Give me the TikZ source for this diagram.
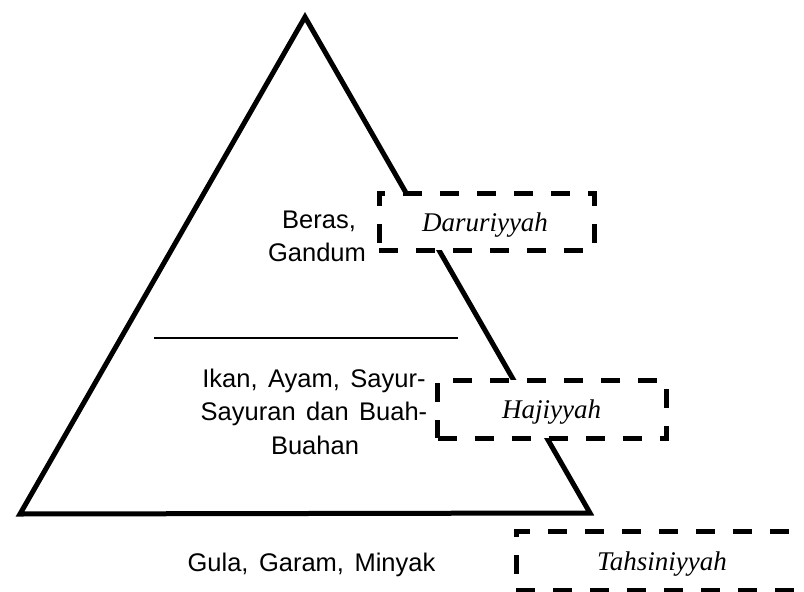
\documentclass[tikz,border=0pt]{standalone}
\usepackage{fontspec}
\setmainfont{Liberation Sans}
\newfontfamily\lblfont{Liberation Serif}
\newcommand\widesp{\spaceskip=10.5pt\relax}
\begin{document}
\begin{tikzpicture}[x=1pt,y=-1pt,
  tri/.style={line width=5pt, line join=miter},
  sidebox/.style={draw, fill=white, line width=5pt, dash pattern=on 19pt off 18pt, inner sep=0pt},
  txt/.style={inner sep=0pt, anchor=base, font=\fontsize{25.5}{25.5}\selectfont},
  lbl/.style={inner sep=0pt, anchor=base, font=\lblfont\itshape\fontsize{27}{27}\selectfont}]
\useasboundingbox (0,0) rectangle (804,592);
\coordinate (A) at (305,17);
\coordinate (L) at (20,514);
\coordinate (R) at (590,513);
\draw[tri] (A) -- (L) -- (R) -- cycle;
\coordinate (s1) at (154,338);
\coordinate (s2) at (458,338);
\draw[line width=1.2pt] (s1) -- (s2);
% level texts
\node[txt] (t1a) at (319,228) {Beras,};
\node[txt] (t1b) at (317,261.5) {Gandum};
\node[txt] (t2a) at (314,387) {\widesp Ikan, Ayam, Sayur-};
\node[txt] (t2b) at (314,420.5) {\widesp Sayuran dan Buah-};
\node[txt] (t2c) at (315,454) {Buahan};
\node[txt] (t3) at (311.5,571) {\widesp Gula, Garam, Minyak};
% side boxes
\node[sidebox, minimum width=215pt, minimum height=57pt] (bd) at (486.5,221.5) {};
\node[lbl] (ld) at (485,231) {Daruriyyah};
\node[sidebox, minimum width=228.5pt, minimum height=58pt] (bh) at (551.75,409) {};
\node[lbl] (lh) at (551.5,418) {Hajiyyah};
\node[sidebox, minimum width=292pt, minimum height=58.5pt] (bt) at (662,560.75) {};
\node[lbl] (lt) at (662,570) {Tahsiniyyah};
\end{tikzpicture}
\end{document}
